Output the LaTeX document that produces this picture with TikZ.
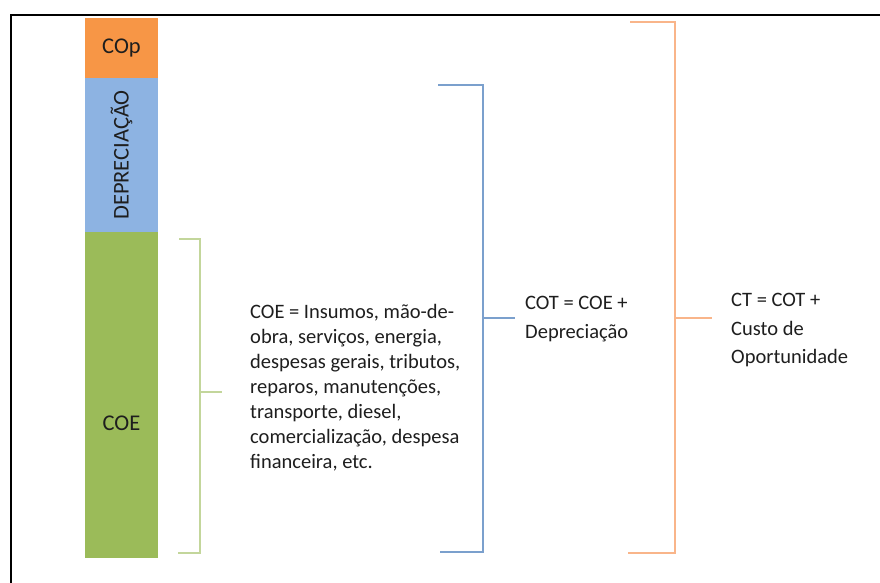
\documentclass[tikz,border=0pt]{standalone}
\usepackage{fontspec}
\setmainfont{Carlito}
\definecolor{barorange}{HTML}{F79646}
\definecolor{barblue}{HTML}{8DB3E2}
\definecolor{bargreen}{HTML}{9BBB59}
\definecolor{brgreen}{HTML}{C3D69B}
\definecolor{brblue}{HTML}{7BA0CD}
\definecolor{brorange}{HTML}{F9B58A}
\definecolor{txt}{HTML}{1E1E1E}
\begin{document}
\begin{tikzpicture}[x=1pt,y=-1pt,
  seg/.style={draw=none,inner sep=0,minimum width=73pt,anchor=north west},
  barlbl/.style={inner sep=0,text=txt,font=\fontsize{22.5}{24}\selectfont},
  lbl/.style={inner sep=0,anchor=north west,align=left,text=txt},
  brack/.style={line width=1.4pt}]
\useasboundingbox (0,0) rectangle (880,583);
\fill[white] (0,0) rectangle (880,583);
\draw[line width=1.6pt,black] (11,600) -- (11,15) -- (880,15);
% bar
\node[seg,fill=barorange,minimum height=60pt] (cop) at (85,18) {};
\node[seg,fill=barblue,minimum height=154pt] (dep) at (85,78) {};
\node[seg,fill=bargreen,minimum height=326pt] (coe) at (85,232) {};
\node[barlbl] (coplbl) at (121.5,48) {COp};
\node[barlbl,rotate=90] (deplbl) at (121.5,155) {DEPRECIAÇÃO};
\node[barlbl] (coelbl) at (121.5,423) {COE};
% texts
\node[lbl,font=\fontsize{20.5}{25}\selectfont] (coetxt) at (250,304.5) {COE = Insumos, mão-de-\\obra, serviços, energia,\\despesas gerais, tributos,\\reparos, manutenções,\\transporte, diesel,\\comercialização, despesa\\financeira, etc.};
\node[lbl,font=\fontsize{20.5}{29}\selectfont] (cottxt) at (525,296) {COT = COE +\\Depreciação};
\node[lbl,font=\fontsize{20.5}{28.5}\selectfont] (cttxt) at (731,293) {CT = COT +\\Custo de\\Oportunidade};
% brackets
\coordinate (gT) at (179,239); \coordinate (gB) at (178,553); \coordinate (gM) at (200,392);
\draw[brack,brgreen] (gT) -- (200,239) -- (200,553) -- (gB);
\draw[brack,brgreen] (gM) -- (222,392);
\coordinate (bT) at (438,85); \coordinate (bB) at (440,552); \coordinate (bM) at (483,318);
\draw[brack,brblue] (bT) -- (483,85) -- (483,552) -- (bB);
\draw[brack,brblue] (bM) -- (515,318);
\coordinate (oT) at (630,22); \coordinate (oB) at (628,553); \coordinate (oM) at (675,318);
\draw[brack,brorange] (oT) -- (675,22) -- (675,553) -- (oB);
\draw[brack,brorange] (oM) -- (712,318);
\end{tikzpicture}
\end{document}
